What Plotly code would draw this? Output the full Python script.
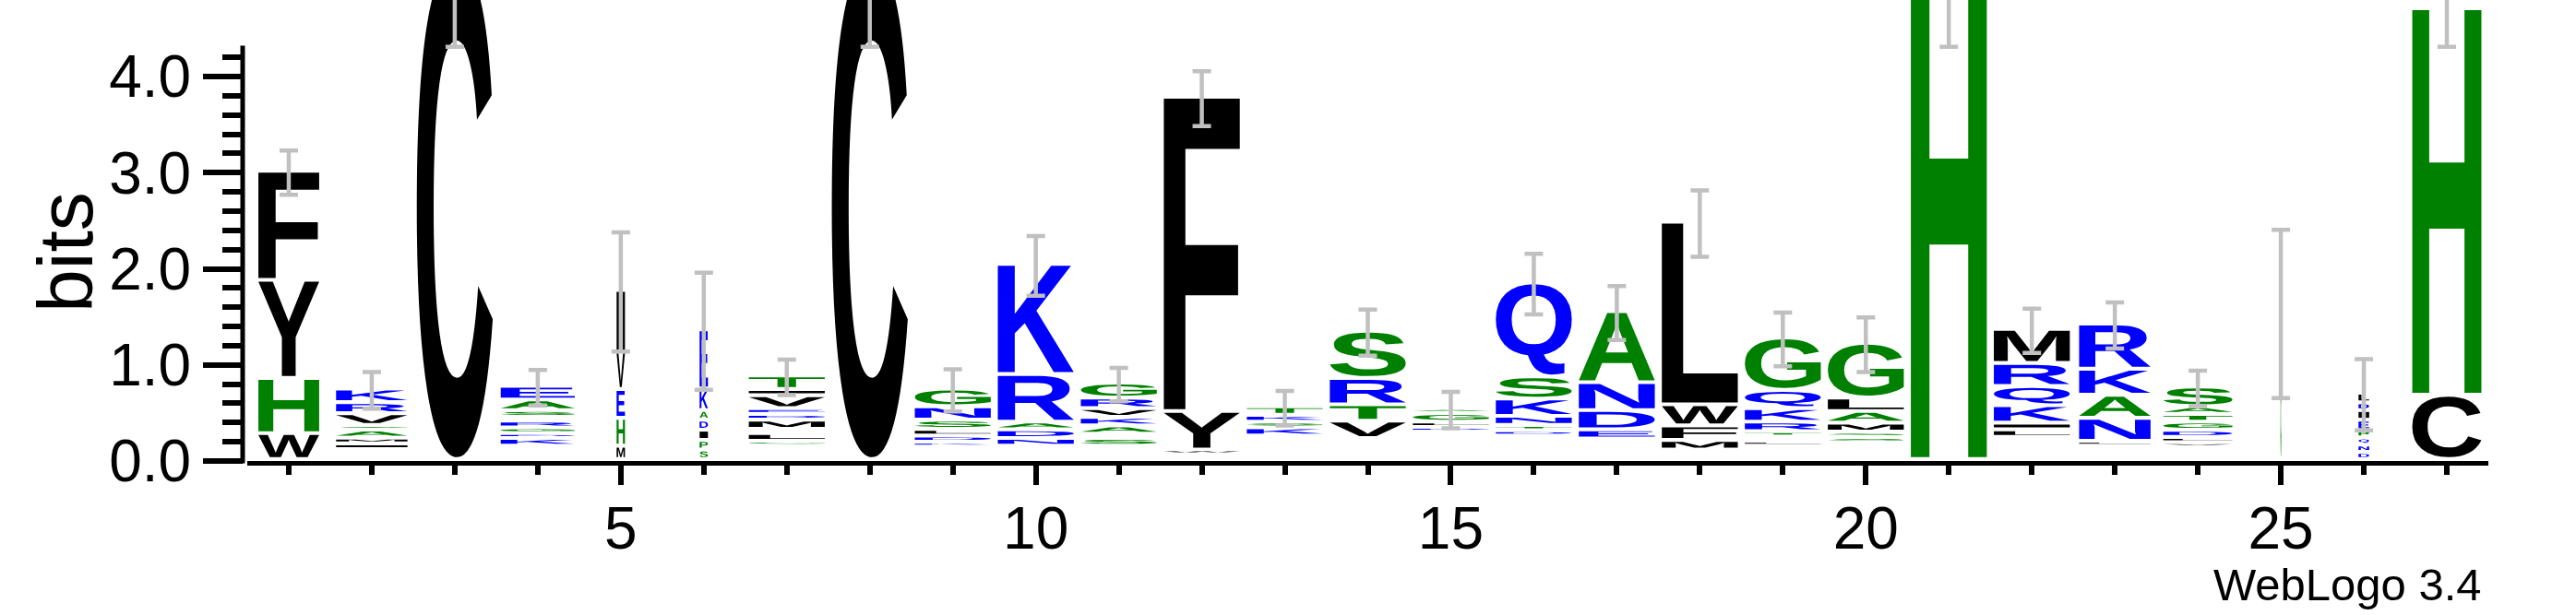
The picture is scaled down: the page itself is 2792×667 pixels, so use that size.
import glob
import os
import struct
import plotly.graph_objects as go

# ---------------------------------------------------------------- data
positions = list(range(1, 28))
# letters of each stack, bottom -> top
stack_letters = [
    "WHYF", "DNQIMASVRK", "C", "DNQPKDGRTSAE", "MHEVI", "SPIDAKE",
    "DNQPGLSMDEVIT", "C", "DNQQKDLSNG", "DNQENDARK", "DNEMSTAKVRG", "PNWYF",
    "DNQPEMIKSKTA", "DNQPEDVTRS", "DNQPEMIKDLGA", "DNQPEMIDTNKSQ", "DNQPESEDNA",
    "DNIMFWL", "DNQPLSTRKQG", "DNQPESSMALG", "H", "DNQDSVLIKQRM", "DNQPLNAKR",
    "DNQPVLDGTAS", "G", "DNQPEIDLK", "CH",
]
stack_heights = [
    [0.27, 0.575, 1.02, 1.135],
    [0.035, 0.035, 0.035, 0.058, 0.06, 0.083, 0.049, 0.123, 0.114, 0.143],
    [5.2],
    [0.035, 0.035, 0.035, 0.035, 0.08, 0.05, 0.06, 0.07, 0.04, 0.07, 0.11, 0.143],
    [0.14, 0.29, 0.30, 0.39, 0.64],
    [0.10, 0.10, 0.106, 0.104, 0.10, 0.225, 0.615],
    [0.035, 0.035, 0.035, 0.035, 0.05, 0.08, 0.045, 0.095, 0.06, 0.06, 0.135, 0.065, 0.14],
    [5.2],
    [0.035, 0.035, 0.03, 0.03, 0.05, 0.065, 0.07, 0.095, 0.14, 0.185, 0.345],
    [0.035, 0.035, 0.035, 0.035, 0.08, 0.09, 0.08, 0.496, 1.144],
    [0.03, 0.03, 0.04, 0.04, 0.08, 0.045, 0.085, 0.09, 0.09, 0.11, 0.155],
    [0.025, 0.025, 0.05, 0.40, 3.27],
    [0.035, 0.035, 0.035, 0.035, 0.035, 0.035, 0.035, 0.085, 0.06, 0.07, 0.09, 0.0],
    [0.035, 0.035, 0.035, 0.035, 0.04, 0.04, 0.18, 0.17, 0.275, 0.49],
    [0.035, 0.035, 0.035, 0.035, 0.035, 0.035, 0.035, 0.04, 0.05, 0.055, 0.09, 0.05],
    [0.035, 0.035, 0.035, 0.035, 0.035, 0.035, 0.035, 0.055, 0.055, 0.095, 0.18, 0.23, 0.98],
    [0.036, 0.036, 0.036, 0.036, 0.036, 0.035, 0.095, 0.20, 0.29, 0.74],
    [0.035, 0.035, 0.03, 0.10, 0.15, 0.22, 1.90],
    [0.035, 0.035, 0.035, 0.035, 0.05, 0.045, 0.055, 0.10, 0.14, 0.19, 0.545],
    [0.035, 0.035, 0.035, 0.035, 0.035, 0.055, 0.055, 0.095, 0.12, 0.14, 0.57],
    [5.2],
    [0.035, 0.035, 0.035, 0.045, 0.04, 0.04, 0.08, 0.07, 0.18, 0.20, 0.24, 0.355],
    [0.035, 0.035, 0.035, 0.035, 0.05, 0.24, 0.24, 0.27, 0.47],
    [0.035, 0.03, 0.03, 0.03, 0.05, 0.055, 0.075, 0.085, 0.08, 0.08, 0.205],
    [1.53],
    [0.075, 0.075, 0.075, 0.075, 0.11, 0.10, 0.08, 0.10, 0.0],
    [0.67, 4.02],
]
# fraction of non-gap sequences (scales stack width)
occupancy = [0.80, 0.94, 1.0, 0.975, 0.11, 0.11, 1.0, 1.0, 1.0, 1.0, 1.0, 1.0, 1.0, 1.0,
             1.0, 1.0, 1.0, 1.0, 1.0, 1.0, 1.0, 1.0, 0.94, 0.91, 0.012, 0.14, 0.91]
# error bar half-widths (bits)
error_bits = [0.23, 0.19, 0.89, 0.185, 0.62, 0.61, 0.185, 0.89, 0.22, 0.31, 0.175, 0.285,
              0.18, 0.24, 0.19, 0.315, 0.28, 0.345, 0.28, 0.285, 0.89, 0.23, 0.24, 0.185,
              0.875, 0.37, 0.38]
y_tick_vals = [0, 1, 2, 3, 4]
y_tick_text = ["0.0", "1.0", "2.0", "3.0", "4.0"]
x_tick_vals = [5, 10, 15, 20, 25]
x_tick_text = ["5", "10", "15", "20", "25"]

# ---------------------------------------------------------------- style
GREEN, BLUE, BLACK, GRAY = "#008000", "#0000ff", "#000000", "#c0c0c0"
letter_color = {}
for ch in "AGHPST":
    letter_color[ch] = GREEN
for ch in "DEKNQR":
    letter_color[ch] = BLUE
for ch in "CFILMVWY":
    letter_color[ch] = BLACK
STACK_W = 0.915
GAP = 0.04
LOG2_20 = 4.3219
W, H = 2792, 667
ML, MR, MT, MB = 263, 95, 0, 167
PX_PER_BIT = 104.25
PLOT_W = W - ML - MR
PLOT_H = H - MT - MB
YMAX = PLOT_H / PX_PER_BIT
FONT = "Liberation Sans, Arial, Helvetica, sans-serif"


# ---------------------------------------------------------------- glyph outlines
def find_font():
    roots = ["/usr/share/fonts", "/usr/local/share/fonts", os.path.expanduser("~/.fonts"),
             os.path.expanduser("~/.local/share/fonts")]
    files = []
    for r in roots:
        files += glob.glob(os.path.join(r, "**", "*.ttf"), recursive=True)
    for pref in ["LiberationSans-Bold.ttf", "Arimo-Bold.ttf", "Roboto-Bold.ttf",
                 "DejaVuSans-Bold.ttf", "NotoSans-Bold.ttf", "OpenSans-Bold.ttf"]:
        for f in files:
            if os.path.basename(f) == pref:
                return f
    for f in files:
        if "Bold" in os.path.basename(f):
            return f
    return files[0] if files else None


class TTF:
    def __init__(self, path):
        d = self.d = open(path, "rb").read()
        num = struct.unpack(">H", d[4:6])[0]
        self.t = {}
        for i in range(num):
            tag, _, off, ln = struct.unpack(">4sIII", d[12 + 16 * i:28 + 16 * i])
            self.t[tag.decode("latin1")] = off
        ho = self.t["head"]
        locfmt = struct.unpack(">h", d[ho + 50:ho + 52])[0]
        mo = self.t["maxp"]
        n = struct.unpack(">H", d[mo + 4:mo + 6])[0]
        lo = self.t["loca"]
        if locfmt == 0:
            self.loca = [2 * v for v in struct.unpack(">%dH" % (n + 1), d[lo:lo + 2 * (n + 1)])]
        else:
            self.loca = list(struct.unpack(">%dI" % (n + 1), d[lo:lo + 4 * (n + 1)]))
        self.glyf = self.t["glyf"]

    def gid(self, ch):
        d = self.d
        co = self.t["cmap"]
        n = struct.unpack(">H", d[co + 2:co + 4])[0]
        c = ord(ch)
        for i in range(n):
            pid, eid, off = struct.unpack(">HHI", d[co + 4 + 8 * i:co + 12 + 8 * i])
            sub = co + off
            fmt = struct.unpack(">H", d[sub:sub + 2])[0]
            if fmt != 4:
                continue
            sx2 = struct.unpack(">H", d[sub + 6:sub + 8])[0]
            seg = sx2 // 2
            ends = struct.unpack(">%dH" % seg, d[sub + 14:sub + 14 + sx2])
            starts = struct.unpack(">%dH" % seg, d[sub + 16 + sx2:sub + 16 + 2 * sx2])
            deltas = struct.unpack(">%dh" % seg, d[sub + 16 + 2 * sx2:sub + 16 + 3 * sx2])
            rp = sub + 16 + 3 * sx2
            rofs = struct.unpack(">%dH" % seg, d[rp:rp + sx2])
            for k in range(seg):
                if starts[k] <= c <= ends[k]:
                    if rofs[k] == 0:
                        return (c + deltas[k]) & 0xFFFF
                    a = rp + 2 * k + rofs[k] + 2 * (c - starts[k])
                    g = struct.unpack(">H", d[a:a + 2])[0]
                    return (g + deltas[k]) & 0xFFFF if g else 0
        return 0

    def contours(self, g, dx=0, dy=0):
        d = self.d
        off = self.glyf + self.loca[g]
        if self.loca[g] == self.loca[g + 1]:
            return []
        nc = struct.unpack(">h", d[off:off + 2])[0]
        p = off + 10
        if nc < 0:
            out = []
            more = True
            while more:
                flags, sub = struct.unpack(">HH", d[p:p + 4])
                p += 4
                if flags & 1:
                    a1, a2 = struct.unpack(">hh", d[p:p + 4]); p += 4
                else:
                    a1, a2 = struct.unpack(">bb", d[p:p + 2]); p += 2
                if flags & 8:
                    p += 2
                elif flags & 0x40:
                    p += 4
                elif flags & 0x80:
                    p += 8
                ox, oy = (a1, a2) if flags & 2 else (0, 0)
                out += self.contours(sub, dx + ox, dy + oy)
                more = bool(flags & 0x20)
            return out
        ends = struct.unpack(">%dH" % nc, d[p:p + 2 * nc]); p += 2 * nc
        il = struct.unpack(">H", d[p:p + 2])[0]; p += 2 + il
        npts = ends[-1] + 1
        flags = []
        while len(flags) < npts:
            f = d[p]; p += 1
            flags.append(f)
            if f & 8:
                r = d[p]; p += 1
                flags.extend([f] * r)
        xs, ys = [], []
        v = 0
        for f in flags:
            if f & 2:
                dv = d[p]; p += 1
                v += dv if f & 16 else -dv
            elif not f & 16:
                v += struct.unpack(">h", d[p:p + 2])[0]; p += 2
            xs.append(v)
        v = 0
        for f in flags:
            if f & 4:
                dv = d[p]; p += 1
                v += dv if f & 32 else -dv
            elif not f & 32:
                v += struct.unpack(">h", d[p:p + 2])[0]; p += 2
            ys.append(v)
        out, st = [], 0
        for e in ends:
            out.append([(xs[i] + dx, ys[i] + dy, bool(flags[i] & 1)) for i in range(st, e + 1)])
            st = e + 1
        return out


def contour_cmds(pts):
    if not any(p[2] for p in pts):
        m = ((pts[0][0] + pts[1][0]) / 2, (pts[0][1] + pts[1][1]) / 2, True)
        pts = [m] + pts[1:] + [pts[0]]
    s = next(i for i, p in enumerate(pts) if p[2])
    pts = pts[s:] + pts[:s]
    cmds = [("M", (pts[0][0], pts[0][1]))]
    ctrl = None
    for p in pts[1:] + [pts[0]]:
        if p[2]:
            if ctrl is None:
                cmds.append(("L", (p[0], p[1])))
            else:
                cmds.append(("Q", ctrl, (p[0], p[1])))
                ctrl = None
        else:
            if ctrl is None:
                ctrl = (p[0], p[1])
            else:
                mid = ((ctrl[0] + p[0]) / 2, (ctrl[1] + p[1]) / 2)
                cmds.append(("Q", ctrl, mid))
                ctrl = (p[0], p[1])
    cmds.append(("Z",))
    return cmds


font = TTF(find_font())
GLYPHS = {}
for ch in set("".join(stack_letters)):
    cs = font.contours(font.gid(ch))
    allp = [pt for c in cs for pt in c]
    xmin = min(p[0] for p in allp); xmax = max(p[0] for p in allp)
    ymin = min(p[1] for p in allp); ymax = max(p[1] for p in allp)
    cmds = []
    for c in cs:
        cmds += contour_cmds(c)
    GLYPHS[ch] = (cmds, xmin, xmax, ymin, ymax)


def glyph_path(ch, x0, x1, y0, y1):
    cmds, xmin, xmax, ymin, ymax = GLYPHS[ch]
    sx = (x1 - x0) / (xmax - xmin)
    sy = (y1 - y0) / (ymax - ymin)

    def f(pt):
        return "%.5f,%.5f" % (x0 + (pt[0] - xmin) * sx, y0 + (pt[1] - ymin) * sy)

    parts = []
    for c in cmds:
        if c[0] == "Z":
            parts.append("Z")
        elif c[0] == "Q":
            parts.append("Q%s %s" % (f(c[1]), f(c[2])))
        else:
            parts.append(c[0] + f(c[1]))
    return " ".join(parts)


# ---------------------------------------------------------------- figure
shapes = []
tops = []
for pos, letters, heights, occ in zip(positions, stack_letters, stack_heights, occupancy):
    half = STACK_W * occ / 2
    base = 0.0
    for ch, h in zip(letters, heights):
        ink = h - GAP
        if ink * PX_PER_BIT > 0.6:
            shapes.append(dict(type="path", xref="x", yref="y", layer="below",
                               path=glyph_path(ch, pos - half, pos + half, base + GAP, base + h),
                               fillcolor=letter_color[ch], line=dict(width=0)))
        base += h
    tops.append(base)

fig = go.Figure()
fig.add_trace(go.Scatter(
    x=positions, y=tops, mode="markers",
    marker=dict(size=1, opacity=0),
    error_y=dict(type="data", array=error_bits, visible=True, color=GRAY, thickness=4.5, width=10),
    hoverinfo="skip", showlegend=False,
))

# y-axis spine, drawn up to log2(20) as in WebLogo
shapes.append(dict(type="line", xref="paper", yref="paper", x0=0, x1=0,
                   y0=-2.5 / PLOT_H, y1=LOG2_20 / YMAX, line=dict(color=BLACK, width=5), layer="above"))

minor_x = [p for p in positions if p not in x_tick_vals]
minor_y = [i / 5 for i in range(1, 22) if i % 5]

fig.update_layout(
    width=W, height=H,
    margin=dict(l=ML, r=MR, t=MT, b=MB, pad=0),
    paper_bgcolor="white", plot_bgcolor="white",
    showlegend=False,
    shapes=shapes,
    font=dict(family=FONT, color=BLACK),
    xaxis=dict(range=[0.5, 27.5], domain=[5 / PLOT_W, 1], showgrid=False, zeroline=False,
               showline=True, linewidth=5, linecolor=BLACK, ticks="outside", ticklen=21,
               tickwidth=6, tickcolor=BLACK, tickvals=x_tick_vals, ticktext=x_tick_text,
               ticklabelstandoff=-8,
               tickfont=dict(size=64, family=FONT, color=BLACK), automargin=False,
               minor=dict(tickvals=minor_x, ticks="outside", ticklen=10, tickwidth=6,
                          tickcolor=BLACK, showgrid=False)),
    yaxis=dict(range=[0, YMAX], anchor="free", position=0, showgrid=False, zeroline=False,
               showline=False, ticks="outside", ticklen=43, tickwidth=6, tickcolor=BLACK,
               tickvals=y_tick_vals, ticktext=y_tick_text,
               tickfont=dict(size=64, family=FONT, color=BLACK), automargin=False,
               minor=dict(tickvals=minor_y, ticks="outside", ticklen=22, tickwidth=6,
                          tickcolor=BLACK, showgrid=False)),
    annotations=[
        dict(text="bits", textangle=-90, xref="paper", yref="paper",
             x=(71 - ML) / PLOT_W, y=(PLOT_H - 274) / PLOT_H, xanchor="center", yanchor="middle",
             showarrow=False, font=dict(size=84, family=FONT, color=BLACK)),
        dict(text="WebLogo 3.4", xref="paper", yref="paper",
             x=(2692 - ML) / PLOT_W, y=(PLOT_H - 634) / PLOT_H, xanchor="right", yanchor="middle",
             showarrow=False, font=dict(size=49, family=FONT, color=BLACK)),
    ],
)

fig.write_html("out.html", config={"displayModeBar": False},
               post_script="document.body.style.margin='0px';")
